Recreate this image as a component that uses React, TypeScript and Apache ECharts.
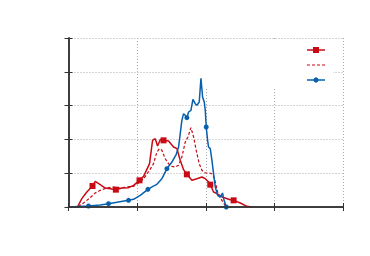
import React, { useEffect, useRef } from "react";
import * as echarts from "echarts";

// Red solid series (with square markers)
const redX = [0, 1.31, 1.94, 2.67, 3.5, 3.89, 4.62, 5.35, 6.08, 6.9, 7.78, 8.75, 9.48, 10.35, 10.94, 11.81, 12.25, 12.64, 12.98, 13.37, 13.85, 14.58, 15.31, 15.8, 16.28, 16.77, 17.25, 17.98, 18.71, 19.44, 19.93, 20.41, 20.66, 21.14, 21.63, 22.36, 23.57, 24.06, 25.03, 26.0, 26.73];
const redY = [0, 0, 2.47, 4.44, 6.21, 7.59, 6.61, 5.62, 5.42, 5.13, 5.62, 5.72, 6.41, 7.89, 9.07, 12.82, 19.72, 20.22, 18.05, 19.92, 19.72, 19.53, 17.75, 17.26, 13.81, 11.05, 9.66, 7.89, 8.38, 8.88, 8.38, 7.4, 6.61, 4.44, 3.94, 2.96, 2.17, 1.97, 1.18, 0.2, 0];
const redMarkers = [4, 9, 13, 20, 26, 32, 37];

// Red dashed series
const dashX = [0, 1.31, 2.19, 3.16, 3.89, 4.62, 5.59, 6.56, 7.53, 8.51, 9.48, 10.21, 10.94, 11.81, 12.39, 12.88, 13.27, 13.61, 14.09, 14.58, 15.07, 15.55, 16.04, 16.52, 17.01, 17.4, 17.84, 18.23, 18.61, 19.05, 19.44, 19.93, 20.56, 21.04, 21.39, 21.73, 22.11, 22.5, 22.84, 23.09];
const dashY = [0, 0, 1.18, 2.76, 4.14, 4.93, 5.62, 5.92, 5.62, 5.92, 6.11, 7.1, 8.38, 10.85, 12.82, 16.27, 17.26, 16.77, 14.3, 12.82, 12.03, 11.83, 12.33, 14.79, 19.23, 20.71, 23.47, 20.71, 16.77, 12.82, 10.85, 10.06, 10.06, 9.66, 7.4, 4.44, 2.76, 1.48, 0.49, 0];

// Blue series (with circle markers)
const blueX = [0, 2.92, 4.62, 5.83, 7.05, 8.75, 9.48, 10.45, 11.57, 12.3, 12.88, 13.61, 14.34, 15.07, 15.7, 16.04, 16.28, 16.52, 16.77, 17.01, 17.25, 17.5, 17.84, 18.13, 18.47, 18.71, 19.05, 19.3, 19.54, 19.78, 19.93, 20.07, 20.27, 20.41, 20.66, 20.9, 21.14, 21.39, 21.73, 22.11, 22.45, 22.6, 22.84, 22.99];
const blueY = [0, 0.3, 0.59, 0.99, 1.38, 1.97, 2.27, 3.45, 5.23, 6.11, 6.71, 8.38, 11.34, 13.31, 15.58, 17.75, 21.7, 25.64, 27.61, 27.12, 26.43, 28.11, 28.6, 31.85, 30.57, 30.08, 31.07, 38.07, 32.54, 31.07, 28.6, 23.67, 19.72, 17.75, 17.26, 13.81, 9.86, 5.92, 3.45, 2.96, 4.14, 2.47, 0.99, 0];
const blueMarkers = [1, 3, 5, 8, 12, 20, 31, 43];

const RED = "#c80a14";
const BLUE = "#0660ad";

function build(xs: number[], ys: number[], markers: number[], symbol: string) {
  return xs.map((x, i) => ({
    value: [x, ys[i]],
    symbol: markers.includes(i) ? symbol : "none",
  }));
}

export default function App() {
  const ref = useRef<HTMLDivElement>(null);
  useEffect(() => {
    if (!ref.current) return;
    const chart = echarts.init(ref.current, null, { renderer: "svg" });
    const frame = { show: true, lineStyle: { color: "#333", width: 1.5 } };
    const grid = { show: true, lineStyle: { color: "#aaa", width: 1, type: [1, 2] as any } };
    const tick = { show: true, inside: true, length: 4, lineStyle: { color: "#333", width: 1 } };
    chart.setOption({
      animation: false,
      grid: { left: 68.5, right: 27, top: 38, bottom: 49 },
      xAxis: [
        { type: "value", min: 0, max: 40, interval: 10, axisLine: frame, axisTick: tick, axisLabel: { show: false }, splitLine: grid, z: 0 },
        { type: "value", position: "top", min: 0, max: 40, interval: 10, axisLine: frame, axisTick: tick, axisLabel: { show: false }, splitLine: { show: false }, z: 5 },
      ],
      yAxis: [
        { type: "value", min: 0, max: 50, interval: 10, axisLine: frame, axisTick: tick, axisLabel: { show: false }, splitLine: grid, z: 0 },
        { type: "value", position: "right", min: 0, max: 50, interval: 10, axisLine: frame, axisTick: tick, axisLabel: { show: false }, splitLine: { show: false }, z: 5 },
      ],
      graphic: {
        elements: [
          { type: "rect", z: 2, shape: { x: 190, y: 39, width: 143, height: 50 }, style: { fill: "#fff" } },
          { type: "line", z: 6, shape: { x1: 307, y1: 50, x2: 325, y2: 50 }, style: { stroke: RED, lineWidth: 1.5 } },
          { type: "rect", z: 6, shape: { x: 313, y: 47, width: 6, height: 6 }, style: { fill: RED } },
          { type: "line", z: 6, shape: { x1: 307, y1: 65, x2: 325, y2: 65 }, style: { stroke: RED, lineWidth: 1.2, lineDash: [3, 2] } },
          { type: "line", z: 6, shape: { x1: 307, y1: 80, x2: 325, y2: 80 }, style: { stroke: BLUE, lineWidth: 1.5 } },
          { type: "circle", z: 6, shape: { cx: 316, cy: 80, r: 2.6 }, style: { fill: BLUE } },
        ],
      },
      series: [
        {
          type: "line", z: 3, data: build(dashX, dashY, [], "none"), showSymbol: false,
          lineStyle: { color: RED, width: 1.2, type: [3, 2] }, itemStyle: { color: RED },
        },
        {
          type: "line", z: 3, data: build(redX, redY, redMarkers, "rect"), showAllSymbol: true, symbolSize: 6,
          lineStyle: { color: RED, width: 1.5 }, itemStyle: { color: RED },
        },
        {
          type: "line", z: 4, data: build(blueX, blueY, blueMarkers, "circle"), showAllSymbol: true, symbolSize: 5,
          lineStyle: { color: BLUE, width: 1.5 }, itemStyle: { color: BLUE },
        },
      ],
    });
    return () => chart.dispose();
  }, []);
  return <div ref={ref} style={{ position: "absolute", left: 0, top: 0, width: 370, height: 256 }} />;
}
